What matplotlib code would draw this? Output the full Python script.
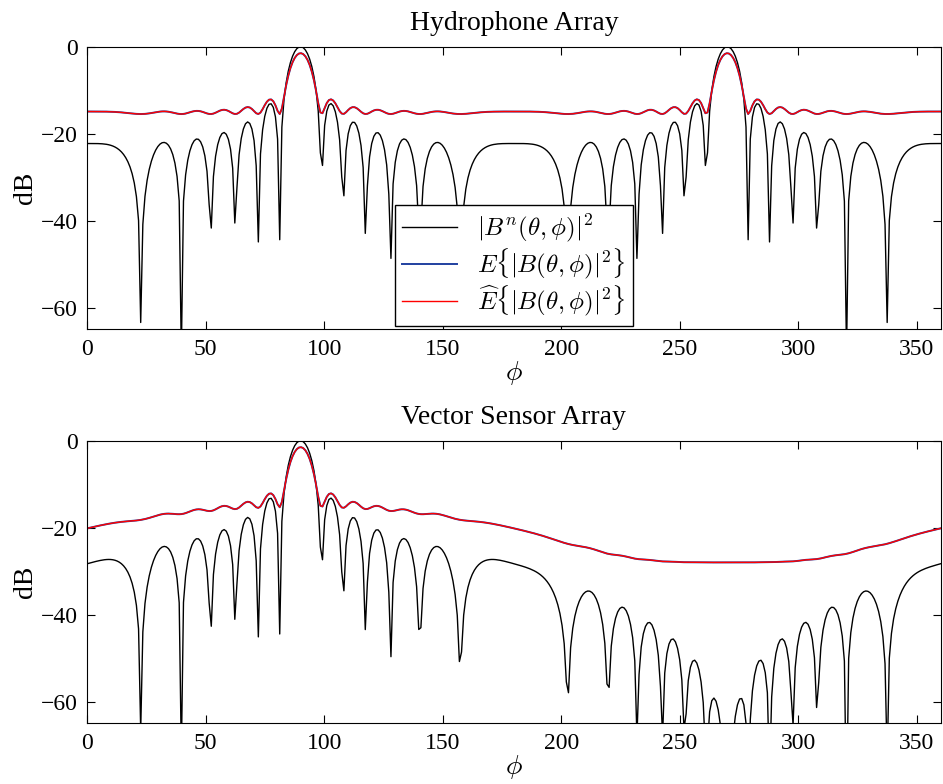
import matplotlib.pyplot as plt
import numpy as np

######################### values #########################
# bearing grid in degrees (400 samples, matches the null depths in the chart)
phi_deg = np.linspace(0, 360, 400)
# nulls at 22, 39, 52, 63, 72, 80 deg -> 13 elements, half wavelength spacing
n_elements = 13
spacing = 0.5
# expected pattern: main lobe peak and sidelobe floor (dB)
main_peak_db = -1.5
floor_db = -15.5
# vector sensor array: floor of the expected pattern towards 270 deg (dB)
back_floor_db = -28.0

titles = ['Hydrophone Array', 'Vector Sensor Array']
xticks = [0, 50, 100, 150, 200, 250, 300, 350]
yticks = [0, -20, -40, -60]
labels = [r'$|B^n(\theta,\phi)|^2$',
          r'$E\{|B(\theta,\phi)|^2\}$',
          r'$\widehat{E}\{|B(\theta,\phi)|^2\}$']
###############################################################################

plt.rcParams['font.family'] = ['Liberation Serif', 'DejaVu Serif']
plt.rcParams['mathtext.fontset'] = 'cm'
plt.rcParams['font.size'] = 17


def db(p):
    return 10 * np.log10(np.maximum(p, 1e-30))


phi = np.radians(phi_deg)
n = np.arange(n_elements) - (n_elements - 1) / 2
steer = np.exp(1j * 2 * np.pi * spacing * np.outer(np.cos(phi), n))
bn = np.abs(steer.sum(axis=1) / n_elements) ** 2

b_floor = 10 ** (floor_db / 10)
a_gain = 10 ** (main_peak_db / 10) - b_floor
c_back = 10 ** (back_floor_db / 10)

# hydrophone array
hyd_nominal = db(bn)
hyd_expected = db(a_gain * bn + b_floor)

# vector sensor array, cardioid weighting (1 + sin phi) / 2
card = ((1 + np.sin(phi)) / 2) ** 2
vs_nominal = db(bn * card)
vs_expected = db(card * (a_gain * bn + b_floor) + c_back)

curves = [(hyd_nominal, hyd_expected), (vs_nominal, vs_expected)]

fig = plt.figure(figsize=(9.43, 7.84), dpi=100)
ax_top = fig.add_axes([0.0925, 0.580, 0.905, 0.3605])
ax_bot = fig.add_axes([0.0925, 0.0774, 0.905, 0.3605])

for ax, title, (nominal, expected) in zip([ax_top, ax_bot], titles, curves):
    ax.plot(phi_deg, nominal, color='black', linewidth=1.0, label=labels[0])
    ax.plot(phi_deg, expected, color='#2040a0', linewidth=1.4, label=labels[1])
    ax.plot(phi_deg, expected, color='red', linewidth=1.0, label=labels[2])

    ax.set_xlim(0, 360)
    ax.set_ylim(-65, 0)
    ax.set_xticks(xticks)
    ax.set_yticks(yticks)
    ax.tick_params(direction='in', top=True, right=True, length=6, pad=7)
    ax.set_title(title, fontsize=20, pad=12)
    ax.set_ylabel('dB', fontsize=20, labelpad=2)
    ax.set_xlabel(r'$\phi$', fontsize=20, labelpad=-1)

ax_top.legend(loc='lower center', bbox_to_anchor=(0.5, 0.0),
              borderaxespad=0.15, fancybox=False, edgecolor='black',
              framealpha=1, handlelength=2.2, borderpad=0.3,
              labelspacing=0.1, fontsize=18)

fig.savefig('out.png', dpi=100)
